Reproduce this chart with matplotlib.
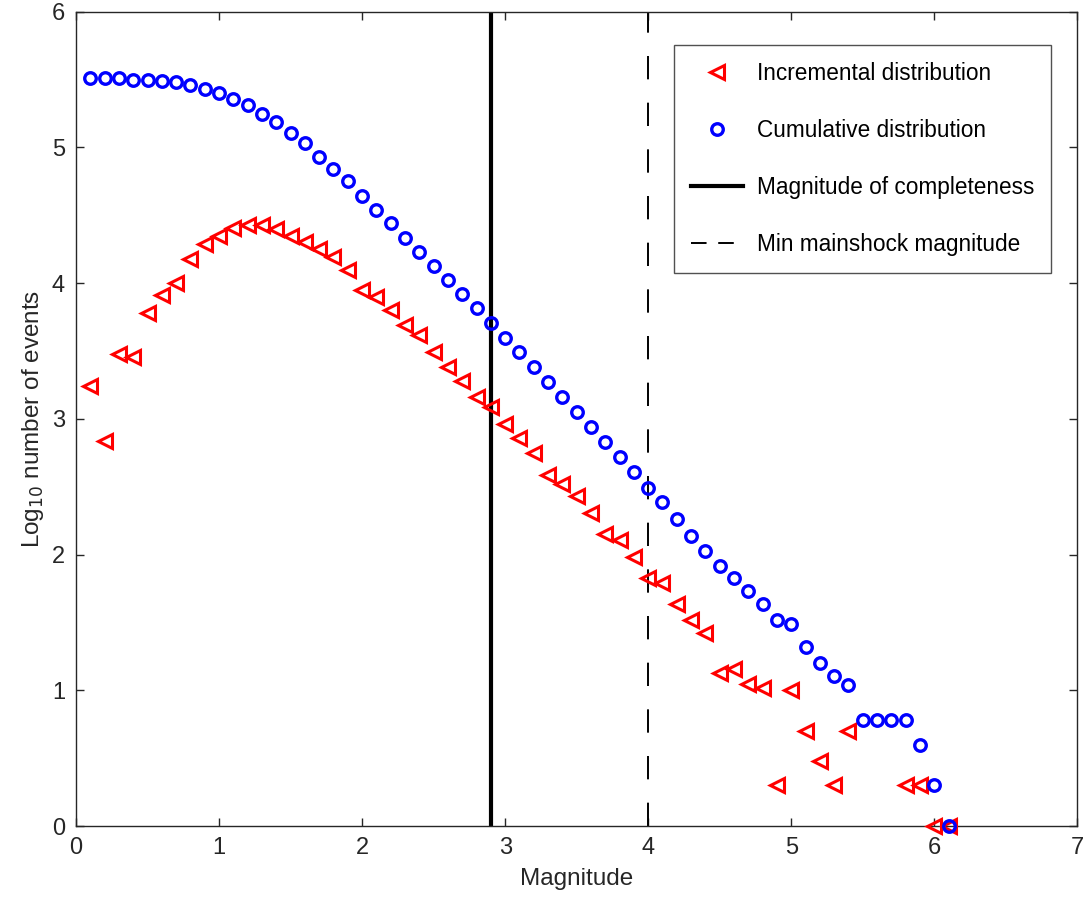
"""Frequency-magnitude distribution with Mc and min mainshock markers."""

import matplotlib.pyplot as plt
import numpy as np

plt.rcParams["font.family"] = ["Liberation Sans", "DejaVu Sans"]

# cumulative distribution, log10 counts at M = 0.1 ... 6.1
mag_cum = [round(0.1 * i, 1) for i in range(1, 62)]
log_cum = [
    5.51, 5.51, 5.51, 5.50, 5.50, 5.49, 5.48, 5.46, 5.43, 5.40,
    5.36, 5.31, 5.25, 5.19, 5.11, 5.03, 4.93, 4.84, 4.75, 4.64,
    4.54, 4.44, 4.33, 4.23, 4.13, 4.02, 3.92, 3.82, 3.71, 3.60,
    3.49, 3.38, 3.27, 3.16, 3.05, 2.94, 2.83, 2.72, 2.61, 2.49,
    2.39, 2.26, 2.14, 2.03, 1.92, 1.83, 1.73, 1.64, 1.52, 1.49,
    1.32, 1.20, 1.11, 1.04, 0.78, 0.78, 0.78, 0.78, 0.60, 0.30,
    0.00,
]

# incremental distribution (bins with zero events are not shown)
mag_inc = [round(0.1 * i, 1) for i in range(1, 55)] + [5.8, 5.9, 6.0, 6.1]
log_inc = [
    3.24, 2.84, 3.48, 3.46, 3.78, 3.91, 4.00, 4.18, 4.29, 4.35,
    4.41, 4.43, 4.43, 4.40, 4.35, 4.30, 4.25, 4.19, 4.10, 3.95,
    3.90, 3.80, 3.69, 3.62, 3.49, 3.38, 3.28, 3.16, 3.09, 2.96,
    2.86, 2.75, 2.59, 2.52, 2.43, 2.31, 2.15, 2.11, 1.98, 1.83,
    1.79, 1.64, 1.52, 1.42, 1.13, 1.16, 1.05, 1.02, 0.30, 1.00,
    0.70, 0.48, 0.30, 0.70,
    0.30, 0.30, 0.00, 0.00,
]

mc = 2.9
min_mainshock = 4.0

fig = plt.figure(figsize=(10.86, 9.0), dpi=100)
ax = fig.add_axes([0.070, 0.082, 0.922, 0.905])

ax.plot(mag_inc, log_inc, linestyle="none", marker="<", markersize=10.5,
        markerfacecolor="none", markeredgecolor="red", markeredgewidth=2.2,
        label="Incremental distribution", clip_on=False, zorder=3)
ax.plot(mag_cum, log_cum, linestyle="none", marker="o", markersize=8.3,
        markerfacecolor="none", markeredgecolor="blue", markeredgewidth=2.4,
        label="Cumulative distribution", clip_on=False, zorder=3)
ax.axvline(mc, color="black", linewidth=3, label="Magnitude of completeness", zorder=2)
ax.axvline(min_mainshock, color="black", linewidth=1.4, dashes=(12, 12),
           label="Min mainshock magnitude", zorder=2)

ax.set_xlim(0, 7)
ax.set_ylim(0, 6)
ax.set_xticks(np.arange(0, 8, 1))
ax.set_yticks(np.arange(0, 7, 1))
ax.tick_params(direction="in", top=True, right=True, length=6, width=1,
               labelsize=17, colors="#262626", pad=8)
for s in ax.spines.values():
    s.set_color("#262626")
    s.set_linewidth(1)

ax.set_xlabel("Magnitude", fontsize=17.5, color="#262626", labelpad=6)
ax.set_ylabel("Log$_{10}$ number of events", fontsize=17.5, color="#262626", labelpad=4)

leg = ax.legend(loc="upper right", bbox_to_anchor=(0.974, 0.9595), borderaxespad=0,
                fontsize=16.3, frameon=True, fancybox=False, edgecolor="#262626",
                borderpad=0.75, labelspacing=1.5, handlelength=2.3,
                handletextpad=0.6)
leg.get_frame().set_linewidth(1)
for h in leg.get_lines():
    if h.get_linestyle() == "--":
        h.set_dashes((8, 6))

fig.savefig("out.png", dpi=100)
